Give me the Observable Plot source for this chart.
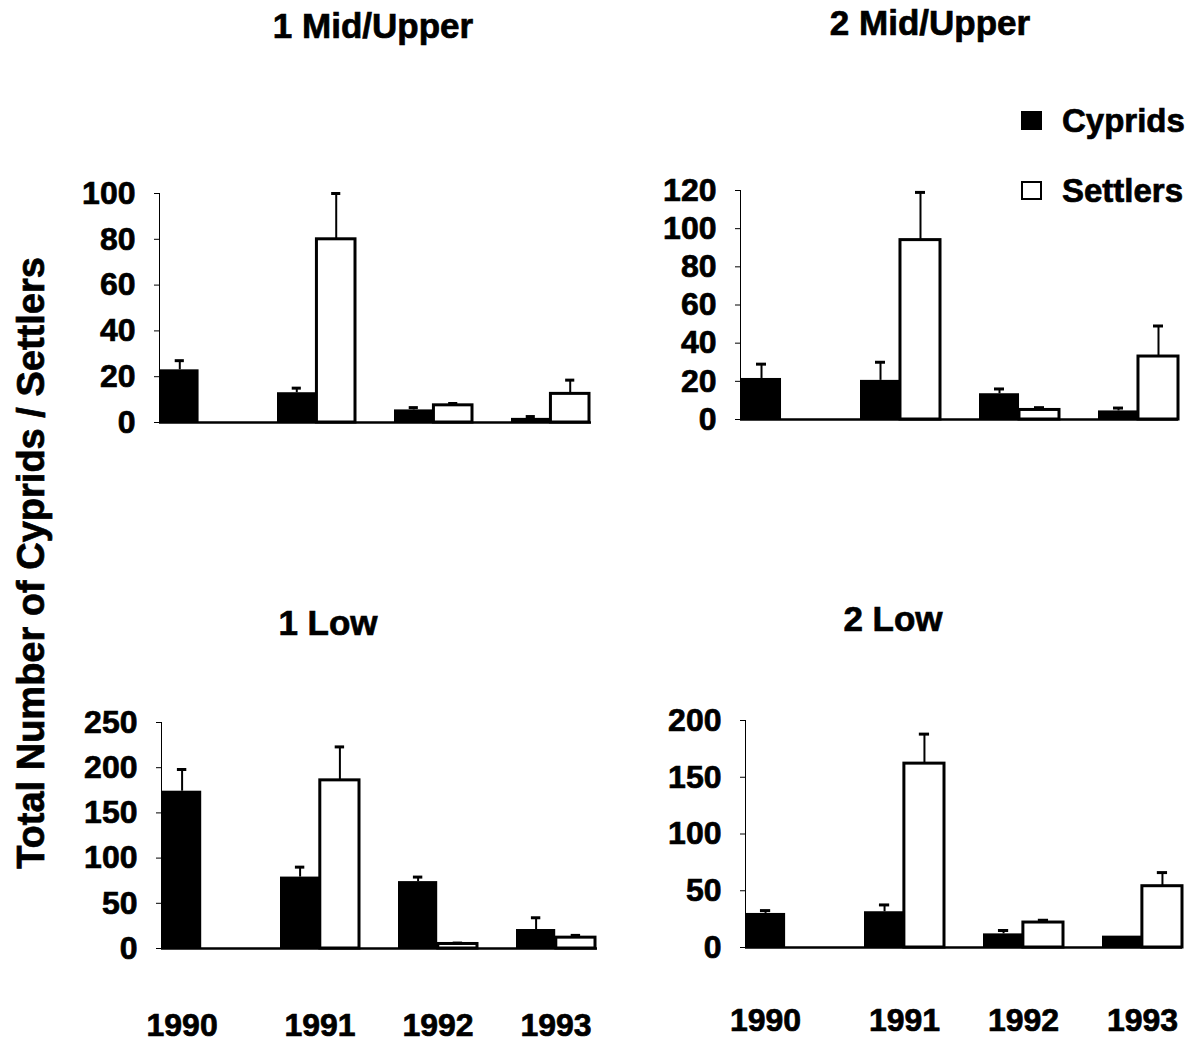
<!DOCTYPE html>
<html><head><meta charset="utf-8">
<script src="https://cdn.jsdelivr.net/npm/d3@7"></script>
<script src="https://cdn.jsdelivr.net/npm/@observablehq/plot@0.6"></script>
<style>
html,body{margin:0;padding:0;background:#fff;overflow:hidden;}
#root{position:relative;width:1200px;height:1042px;font-family:"Liberation Sans",Arial,sans-serif;font-weight:bold;color:#000;}
.panel{position:absolute;}
.panel svg text{stroke:#000;stroke-width:0.7px;paint-order:stroke;}
.title{position:absolute;font-size:35px;font-weight:bold;white-space:nowrap;transform:translate(-50%,-50%);line-height:1;-webkit-text-stroke:0.7px #000;}
.ylabel{position:absolute;font-size:38px;font-weight:bold;white-space:nowrap;transform:translate(-50%,-50%) rotate(-90deg);line-height:1;-webkit-text-stroke:0.7px #000;}
.legend{position:absolute;font-size:33px;font-weight:bold;white-space:nowrap;line-height:1;-webkit-text-stroke:0.7px #000;}
.sw{position:absolute;box-sizing:border-box;border:2px solid #000;}
</style></head><body><div id="root"></div>
<script>
// ---- data ----
const years = ["1990", "1991", "1992", "1993"];
const seriesNames = ["Cyprids", "Settlers"];
const panelTitles = ["1 Mid/Upper", "2 Mid/Upper", "1 Low", "2 Low"];
const yAxisTitle = "Total Number of Cyprids / Settlers";

// 1 Mid/Upper
const cyp1Mid = [23, 13, 5.5, 1.8];
const cyp1MidSE = [4, 2, 1, 0.8];
const set1Mid = [0, 80, 7.5, 12.5];
const set1MidSE = [0, 20, 0.8, 6];
const ticks1Mid = [0, 20, 40, 60, 80, 100];

// 2 Mid/Upper
const cyp2Mid = [21.5, 20.5, 13.5, 4.5];
const cyp2MidSE = [7.5, 9.5, 2.5, 1.5];
const set2Mid = [0, 94, 5, 33];
const set2MidSE = [0, 25, 1.2, 16];
const ticks2Mid = [0, 20, 40, 60, 80, 100, 120];

// 1 Low
const cyp1Low = [174, 79, 74, 21];
const cyp1LowSE = [24, 11, 5, 13];
const set1Low = [0, 186, 5, 12];
const set1LowSE = [0, 37, 1, 2.5];
const ticks1Low = [0, 50, 100, 150, 200, 250];

// 2 Low
const cyp2Low = [30, 31.5, 12, 10];
const cyp2LowSE = [2.5, 6, 3, 0];
const set2Low = [0, 162, 22, 54];
const set2LowSE = [0, 26, 2, 12];
const ticks2Low = [0, 50, 100, 150, 200];

// ---- layout ----
const root = document.getElementById("root");
const FONT = '"Liberation Sans", Arial, sans-serif';
const PAD = 0.33;

function rows(mean, se, name) {
  return years.map((year, i) => ({year, series: name, mean: mean[i], se: se[i]}));
}

function panel(o) {
  const W = o.width - o.mLeft - o.mRight;
  const bw = d3.scaleBand().domain(years).range([0, W]).paddingInner(PAD).paddingOuter(0).bandwidth();
  const cyp = rows(o.cyp, o.cypSE, seriesNames[0]);
  const set = rows(o.set, o.setSE, seriesNames[1]);
  const capHalf = 5;
  const marks = [
    Plot.ruleY([0], {stroke: "#000", strokeWidth: 2.5}),
    Plot.barY(cyp, {x: "year", y: "mean", fill: "#000", insetLeft: 0, insetRight: bw / 2}),
    Plot.barY(set.filter(d => d.mean > 0), {x: "year", y: "mean", fill: "#fff", stroke: "#000", strokeWidth: 3, insetLeft: bw / 2, insetRight: 0}),
    Plot.ruleX(cyp.filter(d => d.se > 0), {x: "year", y1: "mean", y2: d => d.mean + d.se, dx: -bw / 4, stroke: "#000", strokeWidth: 2}),
    Plot.ruleX(set.filter(d => d.se > 0), {x: "year", y1: "mean", y2: d => d.mean + d.se, dx: bw / 4, stroke: "#000", strokeWidth: 2}),
    Plot.tickY(cyp.filter(d => d.se > 0), {x: "year", y: d => d.mean + d.se, insetLeft: bw / 4 - capHalf, insetRight: 3 * bw / 4 - capHalf, stroke: "#000", strokeWidth: 3}),
    Plot.tickY(set.filter(d => d.se > 0), {x: "year", y: d => d.mean + d.se, insetLeft: 3 * bw / 4 - capHalf, insetRight: bw / 4 - capHalf, stroke: "#000", strokeWidth: 3})
  ];
  if (o.showYears) {
    marks.push(Plot.text(years.slice(0, 1), {x: d => d, y: () => 0, text: d => d, dy: o.yearDy, dx: -bw / 4, fontSize: 32, fontWeight: "bold", fill: "#000"}));
    marks.push(Plot.text(years.slice(1), {x: d => d, y: () => 0, text: d => d, dy: o.yearDy, fontSize: 32, fontWeight: "bold", fill: "#000"}));
  }
  const p = Plot.plot({
    width: o.width,
    height: o.height,
    marginLeft: o.mLeft,
    marginRight: o.mRight,
    marginTop: o.mTop,
    marginBottom: o.mBottom,
    style: {fontFamily: FONT, fontSize: "32px", fontWeight: "bold", background: "transparent", overflow: "visible", color: "#000"},
    x: {domain: years, paddingInner: PAD, paddingOuter: 0, axis: null},
    y: {domain: [0, o.yMax], ticks: o.ticks, tickSize: 5, tickPadding: 19, line: true, label: null, tickFormat: d => String(d)},
    marks
  });
  const div = document.createElement("div");
  div.className = "panel";
  div.style.left = o.left + "px";
  div.style.top = o.top + "px";
  div.appendChild(p);
  root.appendChild(div);
}

panel({left: 0, top: 140, width: 600, height: 320, mLeft: 159, mRight: 9, mTop: 53, mBottom: 38,
  yMax: 100, ticks: ticks1Mid, cyp: cyp1Mid, cypSE: cyp1MidSE, set: set1Mid, setSE: set1MidSE, showYears: false});
panel({left: 600, top: 140, width: 600, height: 320, mLeft: 140, mRight: 22, mTop: 50, mBottom: 41,
  yMax: 120, ticks: ticks2Mid, cyp: cyp2Mid, cypSE: cyp2MidSE, set: set2Mid, setSE: set2MidSE, showYears: false});
panel({left: 0, top: 680, width: 600, height: 362, mLeft: 161, mRight: 3, mTop: 42, mBottom: 94,
  yMax: 250, ticks: ticks1Low, cyp: cyp1Low, cypSE: cyp1LowSE, set: set1Low, setSE: set1LowSE, showYears: true, yearDy: 77});
panel({left: 600, top: 680, width: 600, height: 362, mLeft: 145, mRight: 18, mTop: 40, mBottom: 95,
  yMax: 200, ticks: ticks2Low, cyp: cyp2Low, cypSE: cyp2LowSE, set: set2Low, setSE: set2LowSE, showYears: true, yearDy: 73});

// titles
const titlePos = [[373, 25], [930, 22], [328, 622], [893, 618]];
panelTitles.forEach((t, i) => {
  const d = document.createElement("div");
  d.className = "title";
  d.textContent = t;
  d.style.left = titlePos[i][0] + "px";
  d.style.top = titlePos[i][1] + "px";
  root.appendChild(d);
});

// y axis title
const yl = document.createElement("div");
yl.className = "ylabel";
yl.textContent = yAxisTitle;
yl.style.left = "31px";
yl.style.top = "563px";
root.appendChild(yl);

// legend
const legendItems = [
  {name: seriesNames[0], fill: "#000", y: 121},
  {name: seriesNames[1], fill: "#fff", y: 191}
];
legendItems.forEach(it => {
  const s = document.createElement("div");
  s.className = "sw";
  s.style.left = "1021px";
  s.style.top = (it.y - 10) + "px";
  s.style.width = "21px";
  s.style.height = "19px";
  s.style.background = it.fill;
  root.appendChild(s);
  const t = document.createElement("div");
  t.className = "legend";
  t.textContent = it.name;
  t.style.left = "1062px";
  t.style.top = (it.y - 17) + "px";
  root.appendChild(t);
});
</script>
</body></html>
